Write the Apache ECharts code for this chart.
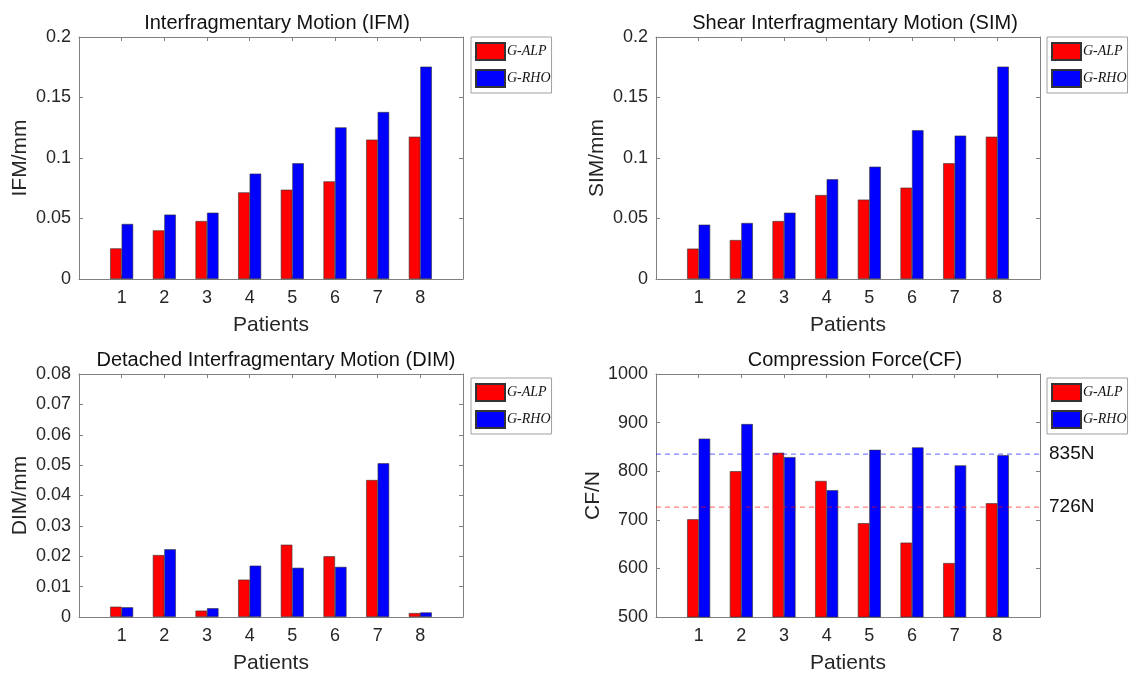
<!DOCTYPE html>
<html>
<head>
<meta charset="utf-8">
<script src="https://cdn.jsdelivr.net/npm/echarts@6/dist/echarts.min.js"></script>
<style>html,body{margin:0;padding:0;background:#fff}#c{width:1130px;height:676px}</style>
</head>
<body>
<div id="c"></div>
<script>
const patients = [1, 2, 3, 4, 5, 6, 7, 8];
const seriesNames = ['G-ALP', 'G-RHO'];

const ifmALP = [0.0253, 0.0402, 0.0479, 0.0716, 0.0738, 0.0807, 0.1152, 0.1176];
const ifmRHO = [0.0455, 0.0532, 0.0548, 0.0871, 0.0956, 0.1253, 0.1380, 0.1755];

const simALP = [0.0251, 0.0322, 0.0479, 0.0694, 0.0656, 0.0755, 0.0956, 0.1176];
const simRHO = [0.0449, 0.0463, 0.0548, 0.0824, 0.0928, 0.1229, 0.1185, 0.1755];

const dimALP = [0.0034, 0.0204, 0.0021, 0.0123, 0.0238, 0.0200, 0.0451, 0.0013];
const dimRHO = [0.0032, 0.0223, 0.0029, 0.0169, 0.0162, 0.0165, 0.0506, 0.0015];

const cfALP = [701, 800, 838, 780, 693, 653, 611, 734];
const cfRHO = [867, 897, 829, 761, 844, 849, 812, 833];

const cfMeanALP = 726;
const cfMeanRHO = 835;

const panels = [
  {title: 'Interfragmentary Motion (IFM)', yName: 'IFM/mm', a: ifmALP, b: ifmRHO, min: 0, max: 0.2, interval: 0.05},
  {title: 'Shear Interfragmentary Motion (SIM)', yName: 'SIM/mm', a: simALP, b: simRHO, min: 0, max: 0.2, interval: 0.05},
  {title: 'Detached Interfragmentary Motion (DIM)', yName: 'DIM/mm', a: dimALP, b: dimRHO, min: 0, max: 0.08, interval: 0.01},
  {title: 'Compression Force(CF)', yName: 'CF/N', a: cfALP, b: cfRHO, min: 500, max: 1000, interval: 100}
];

const grids = [
  {left: 79, top: 37, width: 384, height: 242},
  {left: 656, top: 37, width: 384, height: 242},
  {left: 79, top: 374, width: 384, height: 243},
  {left: 656, top: 374, width: 384, height: 243}
];
const titlePos = [[272, 8], [850, 8], [271, 345], [850, 345]];
const legendPos = [[471, 37], [1047, 37], [471, 378], [1047, 378]];

const FONT = 'Liberation Sans, Arial, sans-serif';
const axisColor = '#808080';
const textColor = '#262626';

const option = {
  animation: false,
  backgroundColor: '#fff',
  title: [], legend: [], grid: [], xAxis: [], yAxis: [], series: []
};

const boxAxis = {
  axisLine: {show: true, onZero: false, lineStyle: {color: axisColor, width: 1}},
  axisTick: {show: true, inside: true, length: 4, lineStyle: {color: axisColor}},
  splitLine: {show: false}
};

panels.forEach((p, i) => {
  option.grid.push(Object.assign({containLabel: false}, grids[i]));
  option.title.push({
    text: p.title, left: titlePos[i][0], top: titlePos[i][1], textAlign: 'center',
    textStyle: {fontFamily: FONT, fontSize: 20, fontWeight: 'normal', color: '#111'}
  });
  option.legend.push({
    data: seriesNames.map(n => n + '#' + i),
    formatter: n => n.split('#')[0],
    icon: 'rect',
    orient: 'vertical', left: legendPos[i][0], top: legendPos[i][1],
    itemWidth: 29, itemHeight: 17, itemGap: 8,
    padding: [5, 1, 5, 4],
    borderColor: '#a0a0a0', borderWidth: 1,
    selectedMode: false,
    textStyle: {fontFamily: 'Liberation Serif, Times New Roman, serif', fontStyle: 'italic', fontSize: 14, color: '#111', padding: [0, 0, 0, -3]}
  });
  const xi = option.xAxis.length;
  option.xAxis.push(Object.assign({}, boxAxis, {
    type: 'value', gridIndex: i, min: 0, max: 9, interval: 1, position: 'bottom',
    name: 'Patients', nameLocation: 'middle', nameGap: 36,
    nameTextStyle: {fontFamily: FONT, fontSize: 21, color: textColor},
    axisLabel: {fontFamily: FONT, fontSize: 18, color: textColor, margin: 10,
      formatter: v => (v >= 1 && v <= 8) ? String(v) : ''}
  }));
  option.xAxis.push(Object.assign({}, boxAxis, {
    type: 'value', gridIndex: i, min: 0, max: 9, interval: 1, position: 'top',
    axisLabel: {show: false}
  }));
  const yi = option.yAxis.length;
  option.yAxis.push(Object.assign({}, boxAxis, {
    type: 'value', gridIndex: i, min: p.min, max: p.max, interval: p.interval, position: 'left',
    name: p.yName, nameLocation: 'middle', nameGap: i === 3 ? 50 : 48,
    nameTextStyle: {fontFamily: FONT, fontSize: 21, color: textColor},
    axisLabel: {fontFamily: FONT, fontSize: 18, color: textColor, margin: 8,
      formatter: v => String(+v.toFixed(4))}
  }));
  option.yAxis.push(Object.assign({}, boxAxis, {
    type: 'value', gridIndex: i, min: p.min, max: p.max, interval: p.interval, position: 'right',
    axisLabel: {show: false}
  }));
  const mk = (name, vals, color) => ({
    name: name + '#' + i, type: 'bar', xAxisIndex: xi, yAxisIndex: yi,
    barWidth: 11.5, barGap: '0%',
    itemStyle: {color: color, borderColor: '#333', borderWidth: 0.6},
    data: patients.map((x, k) => [x, vals[k]])
  });
  option.series.push(mk(seriesNames[0], p.a, '#ff0000'), mk(seriesNames[1], p.b, '#0000ff'));
  if (i === 3) {
    const meanLine = (name, val, color) => ({
      name: name, type: 'line', xAxisIndex: xi, yAxisIndex: yi, z: 5,
      symbol: 'none', silent: true,
      lineStyle: {color: color, type: [5, 4], width: 1.3, opacity: 0.5},
      itemStyle: {color: color},
      endLabel: {show: true, distance: 9, formatter: val + 'N',
        fontFamily: FONT, fontSize: 19, color: '#111'},
      data: [[0, val], [9, val]]
    });
    option.series.push(meanLine('meanRHO', cfMeanRHO, '#0000ff'), meanLine('meanALP', cfMeanALP, '#ff0000'));
  }
});

const chart = echarts.init(document.getElementById('c'), null, {renderer: 'canvas'});
chart.setOption(option);
</script>
</body>
</html>
